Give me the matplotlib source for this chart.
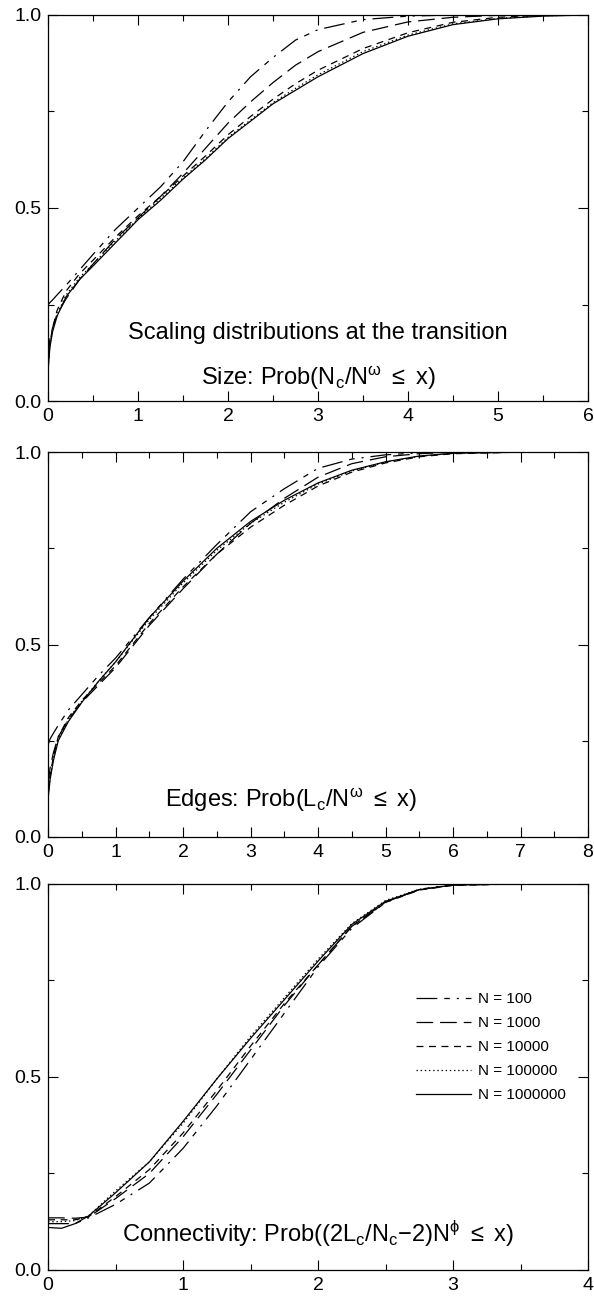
import numpy as np
import matplotlib
matplotlib.use('Agg')
import matplotlib.pyplot as plt

plt.rcParams['font.family'] = ['Liberation Sans', 'DejaVu Sans']
plt.rcParams['mathtext.fontset'] = 'custom'
plt.rcParams['mathtext.rm'] = 'Liberation Sans'
plt.rcParams['mathtext.it'] = 'Liberation Sans:italic'
plt.rcParams['lines.scale_dashes'] = False

labels = ['N = 100', 'N = 1000', 'N = 10000', 'N = 100000', 'N = 1000000']

# Size panel
x1 = [0, 0.02, 0.05, 0.1, 0.2, 0.35, 0.5, 0.75, 1.0, 1.25, 1.5, 1.75, 2.0, 2.25,
      2.5, 2.75, 3.0, 3.5, 4.0, 4.5, 5.0, 5.5, 6.0]
size_n100 = [0.25, 0.255, 0.262, 0.275, 0.30, 0.34, 0.38, 0.445, 0.5, 0.555, 0.62, 0.70,
             0.775, 0.84, 0.89, 0.935, 0.962, 0.988, 0.997, 1.0, 1.0, 1.0, 1.0]
size_n1000 = [0.12, 0.16, 0.19, 0.225, 0.265, 0.315, 0.355, 0.42, 0.475, 0.53, 0.59, 0.655,
              0.72, 0.775, 0.825, 0.87, 0.905, 0.955, 0.982, 0.994, 0.999, 1.0, 1.0]
size_n10000 = [0.1, 0.15, 0.19, 0.235, 0.285, 0.33, 0.365, 0.425, 0.48, 0.53, 0.583, 0.635,
               0.69, 0.737, 0.782, 0.822, 0.857, 0.913, 0.954, 0.981, 0.994, 0.999, 1.0]
size_n100000 = [0.09, 0.145, 0.185, 0.225, 0.275, 0.32, 0.355, 0.415, 0.472, 0.525, 0.578, 0.628,
                0.683, 0.728, 0.773, 0.81, 0.845, 0.905, 0.948, 0.977, 0.991, 0.998, 1.0]
size_n1000000 = [0.08, 0.14, 0.18, 0.22, 0.27, 0.315, 0.35, 0.41, 0.47, 0.52, 0.575, 0.625,
                 0.68, 0.725, 0.77, 0.805, 0.84, 0.9, 0.945, 0.975, 0.99, 0.997, 1.0]

# Edges panel
x2 = [0, 0.03, 0.08, 0.15, 0.3, 0.5, 0.75, 1.0, 1.5, 2.0, 2.5, 3.0, 3.5, 4.0, 4.5,
      5.0, 5.5, 6.0, 7.0, 8.0]
edge_n100 = [0.24, 0.255, 0.27, 0.29, 0.33, 0.37, 0.42, 0.465, 0.57, 0.67, 0.76, 0.845,
             0.905, 0.958, 0.982, 0.993, 0.998, 1.0, 1.0, 1.0]
edge_n1000 = [0.14, 0.18, 0.22, 0.26, 0.305, 0.35, 0.395, 0.44, 0.55, 0.645, 0.735, 0.815,
              0.88, 0.935, 0.97, 0.988, 0.996, 1.0, 1.0, 1.0]
edge_n10000 = [0.12, 0.16, 0.21, 0.26, 0.31, 0.355, 0.4, 0.445, 0.555, 0.65, 0.735, 0.805,
               0.862, 0.912, 0.948, 0.972, 0.988, 0.996, 1.0, 1.0]
edge_n100000 = [0.11, 0.155, 0.205, 0.255, 0.305, 0.353, 0.405, 0.455, 0.565, 0.66, 0.745, 0.815,
                0.87, 0.917, 0.951, 0.974, 0.989, 0.997, 1.0, 1.0]
edge_n1000000 = [0.1, 0.15, 0.2, 0.25, 0.3, 0.35, 0.405, 0.455, 0.57, 0.665, 0.75, 0.82,
                 0.875, 0.92, 0.953, 0.975, 0.99, 0.997, 1.0, 1.0]

# Connectivity panel
x3 = [0, 0.1, 0.2, 0.3, 0.5, 0.75, 1.0, 1.25, 1.5, 1.75, 2.0, 2.25, 2.5, 2.75, 3.0, 3.5, 4.0]
conn_n100 = [0.12, 0.12, 0.12, 0.135, 0.17, 0.225, 0.315, 0.425, 0.545, 0.665, 0.785, 0.885,
             0.952, 0.986, 0.998, 1.0, 1.0]
conn_n1000 = [0.135, 0.135, 0.134, 0.137, 0.185, 0.25, 0.345, 0.455, 0.57, 0.685, 0.79, 0.89,
              0.953, 0.985, 0.997, 1.0, 1.0]
conn_n10000 = [0.13, 0.13, 0.13, 0.138, 0.19, 0.26, 0.355, 0.465, 0.58, 0.69, 0.79, 0.89,
               0.952, 0.984, 0.996, 1.0, 1.0]
conn_n100000 = [0.125, 0.125, 0.128, 0.14, 0.205, 0.28, 0.38, 0.495, 0.605, 0.705, 0.805, 0.897,
                0.957, 0.986, 0.997, 1.0, 1.0]
conn_n1000000 = [0.11, 0.108, 0.12, 0.14, 0.2, 0.28, 0.385, 0.495, 0.6, 0.70, 0.80, 0.895,
                 0.955, 0.985, 0.997, 1.0, 1.0]

styles = [(0, (15, 5, 4, 5, 1.5, 5)), (0, (12, 5)), (0, (5, 4)), (0, (1, 2)), '-']

fig = plt.figure(figsize=(5.94, 13.0), dpi=100)
ax1 = fig.add_axes([0.081, 0.6915, 0.909, 0.297])
ax2 = fig.add_axes([0.081, 0.3562, 0.909, 0.296])
ax3 = fig.add_axes([0.081, 0.0231, 0.909, 0.297])

panels = [
    (ax1, x1, [size_n100, size_n1000, size_n10000, size_n100000, size_n1000000], 6),
    (ax2, x2, [edge_n100, edge_n1000, edge_n10000, edge_n100000, edge_n1000000], 8),
    (ax3, x3, [conn_n100, conn_n1000, conn_n10000, conn_n100000, conn_n1000000], 4),
]

for ax, xs, series, xmax in panels:
    for ys, ls, lab in zip(series, styles, labels):
        ax.plot(xs, ys, color='black', lw=0.9, linestyle=ls, label=lab)
    ax.set_xlim(0, xmax)
    ax.set_ylim(0, 1)
    ax.set_xticks(np.arange(0, xmax + 1, 1))
    ax.set_xticks(np.arange(0.5, xmax, 1), minor=True)
    ax.set_yticks([0, 0.5, 1.0])
    ax.set_yticklabels(['0.0', '0.5', '1.0'])
    ax.set_yticks([0.25, 0.75], minor=True)
    ax.tick_params(which='both', direction='in', top=True, right=True,
                   labelsize=14, width=0.8, pad=5)
    ax.tick_params(which='major', length=7)
    ax.tick_params(which='minor', length=4)
    for s in ax.spines.values():
        s.set_linewidth(0.9)

ax1.text(0.5, 0.175, 'Scaling distributions at the transition', transform=ax1.transAxes,
         ha='center', va='center', fontsize=17)
ax1.text(0.5, 0.06, r'Size: Prob(N$_{\rm c}$/N$^{\mathrm{\omega}}$ $\leq$ x)',
         transform=ax1.transAxes, ha='center', va='center', fontsize=17)
ax2.text(0.45, 0.095, r'Edges: Prob(L$_{\rm c}$/N$^{\mathrm{\omega}}$ $\leq$ x)',
         transform=ax2.transAxes, ha='center', va='center', fontsize=17)
ax3.text(0.5, 0.095,
         r'Connectivity: Prob((2L$_{\rm c}$/N$_{\rm c}$$-$2)N$^{\mathrm{\phi}}$ $\leq$ x)',
         transform=ax3.transAxes, ha='center', va='center', fontsize=17)

ax3.legend(loc='upper left', bbox_to_anchor=(0.655, 0.755), frameon=False, fontsize=11,
           handlelength=3.6, handletextpad=0.5, labelspacing=0.65)

fig.savefig('out.png', dpi=100)
